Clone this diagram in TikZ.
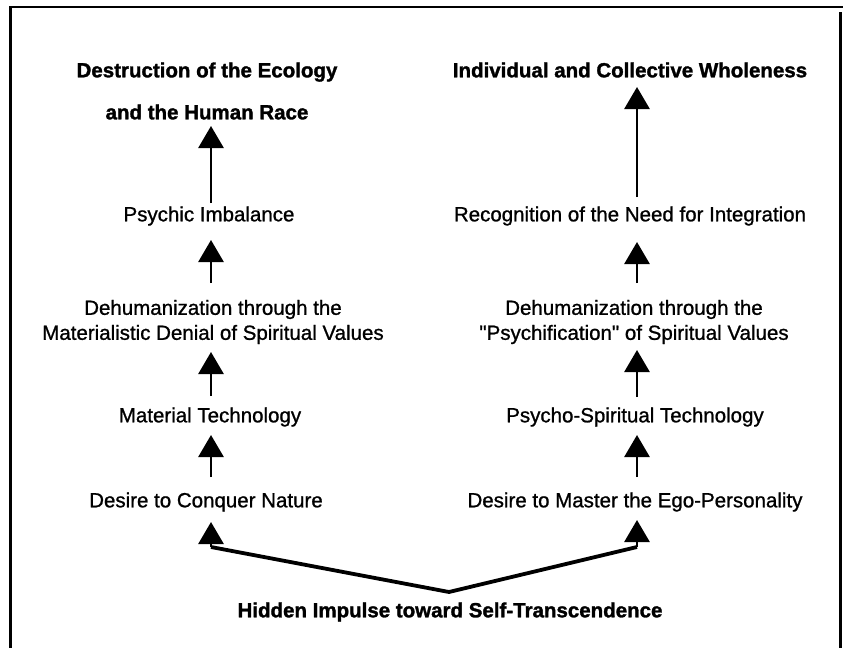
\documentclass[tikz,border=0pt]{standalone}
\usepackage{fontspec}
\setmainfont{Liberation Sans}
\newfontfamily\bodyfont[FakeBold=1]{Liberation Sans}
\newfontfamily\titlefont[FakeBold=1.5]{Liberation Sans Bold}
\usetikzlibrary{arrows.meta}
\begin{document}
\begin{tikzpicture}[x=1pt,y=-1pt,
  lbl/.style={font=\bodyfont\fontsize{20.5}{25}\selectfont, inner sep=0pt, align=center},
  ttl/.style={lbl, font=\titlefont\fontsize{20.5}{25}\selectfont},
  arr/.style={line width=2.8pt, -{Triangle[length=22pt,width=25pt]}},
  vline/.style={line width=3.8pt, line join=miter},
  framestyle/.style={line width=2.5pt}]
\useasboundingbox (0,0) rectangle (847,648);
% frame
\draw[framestyle] (9,7) -- (843,7);
\draw[line width=3pt] (10.5,7) -- (10.5,648);
\draw[line width=3pt] (840.5,12) -- (840.5,648);
% left column
\node[ttl] (destr) at (207,91) {Destruction of the Ecology\\[17pt]and the Human Race};
\node[lbl] (psychic) at (209,216) {Psychic Imbalance};
\node[lbl] (dehumL) at (213,322) {Dehumanization through the\\Materialistic Denial of Spiritual Values};
\node[lbl] (mattech) at (210,417) {Material Technology};
\node[lbl] (desireL) at (206,502) {Desire to Conquer Nature};
% right column
\node[ttl] (whole) at (630,70) {Individual and Collective Wholeness};
\node[lbl] (recog) at (630,216) {Recognition of the Need for Integration};
\node[lbl] (dehumR) at (634,322) {Dehumanization through the\\\textquotedbl Psychification\textquotedbl{} of Spiritual Values};
\node[lbl] (psytech) at (635,417) {Psycho-Spiritual Technology};
\node[lbl] (desireR) at (635,502) {Desire to Master the Ego-Personality};
% bottom
\node[ttl] (hidden) at (450,612) {Hidden Impulse toward Self-Transcendence};
% connector coordinates
\coordinate (l1t) at (211,203); \coordinate (l1h) at (211,126);
\coordinate (l2t) at (211,283); \coordinate (l2h) at (211,240);
\coordinate (l3t) at (211,396); \coordinate (l3h) at (211,352);
\coordinate (l4t) at (211,477); \coordinate (l4h) at (211,435);
\coordinate (r1t) at (637,197); \coordinate (r1h) at (637,87);
\coordinate (r2t) at (637,283); \coordinate (r2h) at (637,242);
\coordinate (r3t) at (637,397); \coordinate (r3h) at (637,350);
\coordinate (r4t) at (637,477); \coordinate (r4h) at (637,435);
\coordinate (vl) at (211,547); \coordinate (vr) at (637,547);
\coordinate (vv) at (449,592);
\coordinate (l5h) at (211,522); \coordinate (r5h) at (637,520);
% arrows
\draw[arr] (l1t) -- (l1h);
\draw[arr] (l2t) -- (l2h);
\draw[arr] (l3t) -- (l3h);
\draw[arr] (l4t) -- (l4h);
\draw[arr] (r1t) -- (r1h);
\draw[arr] (r2t) -- (r2h);
\draw[arr] (r3t) -- (r3h);
\draw[arr] (r4t) -- (r4h);
\draw[vline] (vl) -- (vv) -- (vr);
\draw[arr] (vl) -- (l5h);
\draw[arr] (vr) -- (r5h);
\end{tikzpicture}
\end{document}
